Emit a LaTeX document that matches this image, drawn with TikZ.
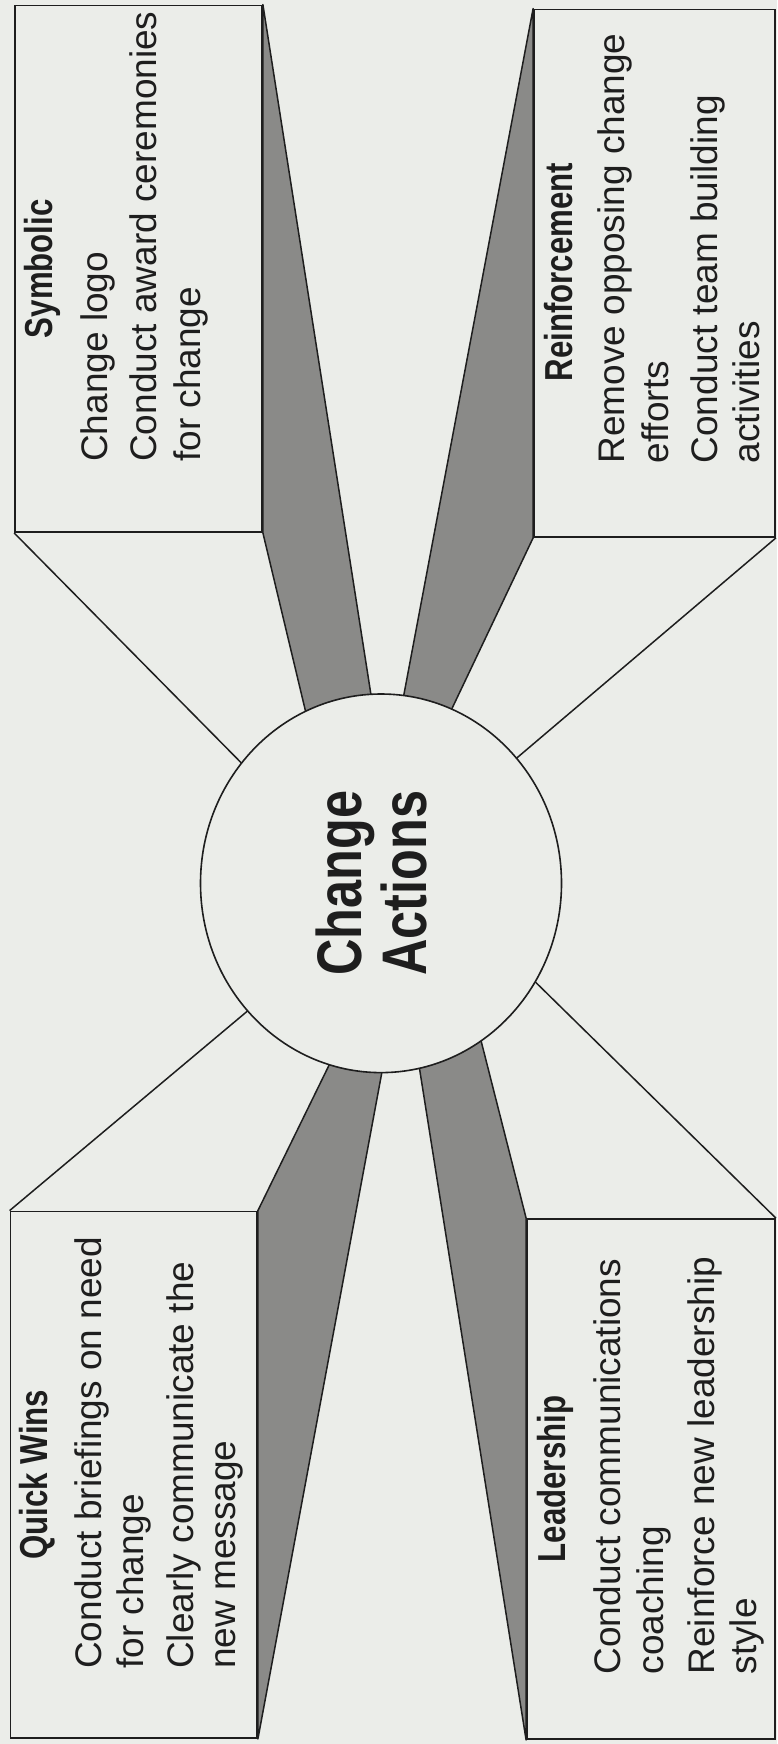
\documentclass[tikz,border=0pt]{standalone}
\usepackage{fontspec}
\setmainfont{Liberation Sans}
\newfontfamily\condfont[FakeStretch=0.8]{Liberation Sans}
\usetikzlibrary{shapes.geometric,calc}
\definecolor{paper}{RGB}{235,237,233}
\definecolor{bandgray}{RGB}{138,138,136}
\definecolor{ink}{RGB}{30,30,30}
\begin{document}
\begin{tikzpicture}[x=1pt,y=-1pt,
  box/.style={draw=ink, fill=paper, line width=1.8pt, inner sep=0pt, rectangle},
  band/.style={fill=bandgray, draw=ink, line width=1.5pt, line join=round},
  ray/.style={draw=ink, line width=1.5pt},
  bodyline/.style={rotate=90, anchor=base west, inner sep=0pt, font=\fontsize{37}{43.5}\selectfont, text=ink},
  boxtitle/.style={rotate=90, anchor=base, inner sep=0pt, font=\condfont\bfseries\fontsize{39}{45}\selectfont, text=ink},
  hubtext/.style={rotate=90, inner sep=0pt, align=center, font=\condfont\bfseries\fontsize{63}{65}\selectfont, text=ink},
  hub/.style={draw=ink, fill=paper, ellipse, line width=1.6pt, inner sep=0pt}
]
\fill[paper] (0,0) rectangle (777,1744);
\useasboundingbox (0,0) rectangle (777,1744);

% boxes
\node[box, minimum width=247pt, minimum height=526.5pt] (sym) at (138.5,268.75) {};
\node[box, minimum width=241pt, minimum height=527.5pt] (rein) at (654.5,273.25) {};
\node[box, minimum width=246.5pt, minimum height=526.5pt] (qw) at (133.75,1474.75) {};
\node[box, minimum width=248pt, minimum height=520pt] (lead) at (651,1479) {};

% points where the faces meet the hub
\coordinate (t1) at (241.7,763.3);
\coordinate (t2) at (518.3,756.7);
\coordinate (t3) at (246.7,1011.7);
\coordinate (t4) at (536.7,983.3);
\coordinate (b1o) at (370.7,693);
\coordinate (b1i) at (305,709);
\coordinate (b2o) at (404,694);
\coordinate (b2i) at (452.7,707);
\coordinate (b3o) at (328.3,1066.7);
\coordinate (b3i) at (381.7,1073.3);
\coordinate (b4o) at (481.7,1043.3);
\coordinate (b4i) at (420,1071.7);

% dark side faces
\filldraw[band] (sym.north east) -- ($(sym.north east)!1.1!(b1o)$) -- ($(sym.south east)!1.3!(b1i)$) -- (sym.south east) -- cycle;
\filldraw[band] (rein.north west) -- ($(rein.north west)!1.1!(b2o)$) -- ($(rein.south west)!1.3!(b2i)$) -- (rein.south west) -- cycle;
\filldraw[band] (qw.north east) -- ($(qw.north east)!1.45!(b3o)$) -- ($(qw.south east)!1.1!(b3i)$) -- (qw.south east) -- cycle;
\filldraw[band] (lead.north west) -- ($(lead.north west)!1.25!(b4o)$) -- ($(lead.south west)!1.1!(b4i)$) -- (lead.south west) -- cycle;

% light face edges
\draw[ray] (sym.south west) -- ($(sym.south west)!1.1!(t1)$);
\draw[ray] (rein.south east) -- ($(rein.south east)!1.1!(t2)$);
\draw[ray] (qw.north west) -- ($(qw.north west)!1.1!(t3)$);
\draw[ray] (lead.north east) -- ($(lead.north east)!1.1!(t4)$);

% hub
\node[hub, minimum width=361pt, minimum height=378.6pt] (ca) at (381,883.3) {};
\node[hubtext] (catext) at (371,883) {Change\\Actions};

% Symbolic
\node[boxtitle] (symT) at (52,268.75) {Symbolic};
\node[bodyline] (sym1) at (107,462) {Change logo};
\node[bodyline] (sym2) at (156.5,462) {Conduct award ceremonies};
\node[bodyline] (sym3) at (200,462) {for change};

% Reinforcement
\node[boxtitle] (reinT) at (572,272) {Reinforcement};
\node[bodyline] (rein1) at (624,463.5) {Remove opposing change};
\node[bodyline] (rein2) at (668.5,463.5) {efforts};
\node[bodyline] (rein3) at (717,463.5) {Conduct team building};
\node[bodyline] (rein4) at (759.5,463.5) {activities};

% Quick Wins
\node[boxtitle] (qwT) at (47,1474.75) {Quick Wins};
\node[bodyline] (qw1) at (101,1669) {Conduct briefings on need};
\node[bodyline] (qw2) at (143,1669) {for change};
\node[bodyline] (qw3) at (193,1669) {Clearly communicate the};
\node[bodyline] (qw4) at (235,1669) {new message};

% Leadership
\node[boxtitle] (leadT) at (565,1479) {Leadership};
\node[bodyline] (lead1) at (620,1674.5) {Conduct communications};
\node[bodyline] (lead2) at (663,1674.5) {coaching};
\node[bodyline] (lead3) at (714,1674.5) {Reinforce new leadership};
\node[bodyline] (lead4) at (756,1674.5) {style};
\end{tikzpicture}
\end{document}
